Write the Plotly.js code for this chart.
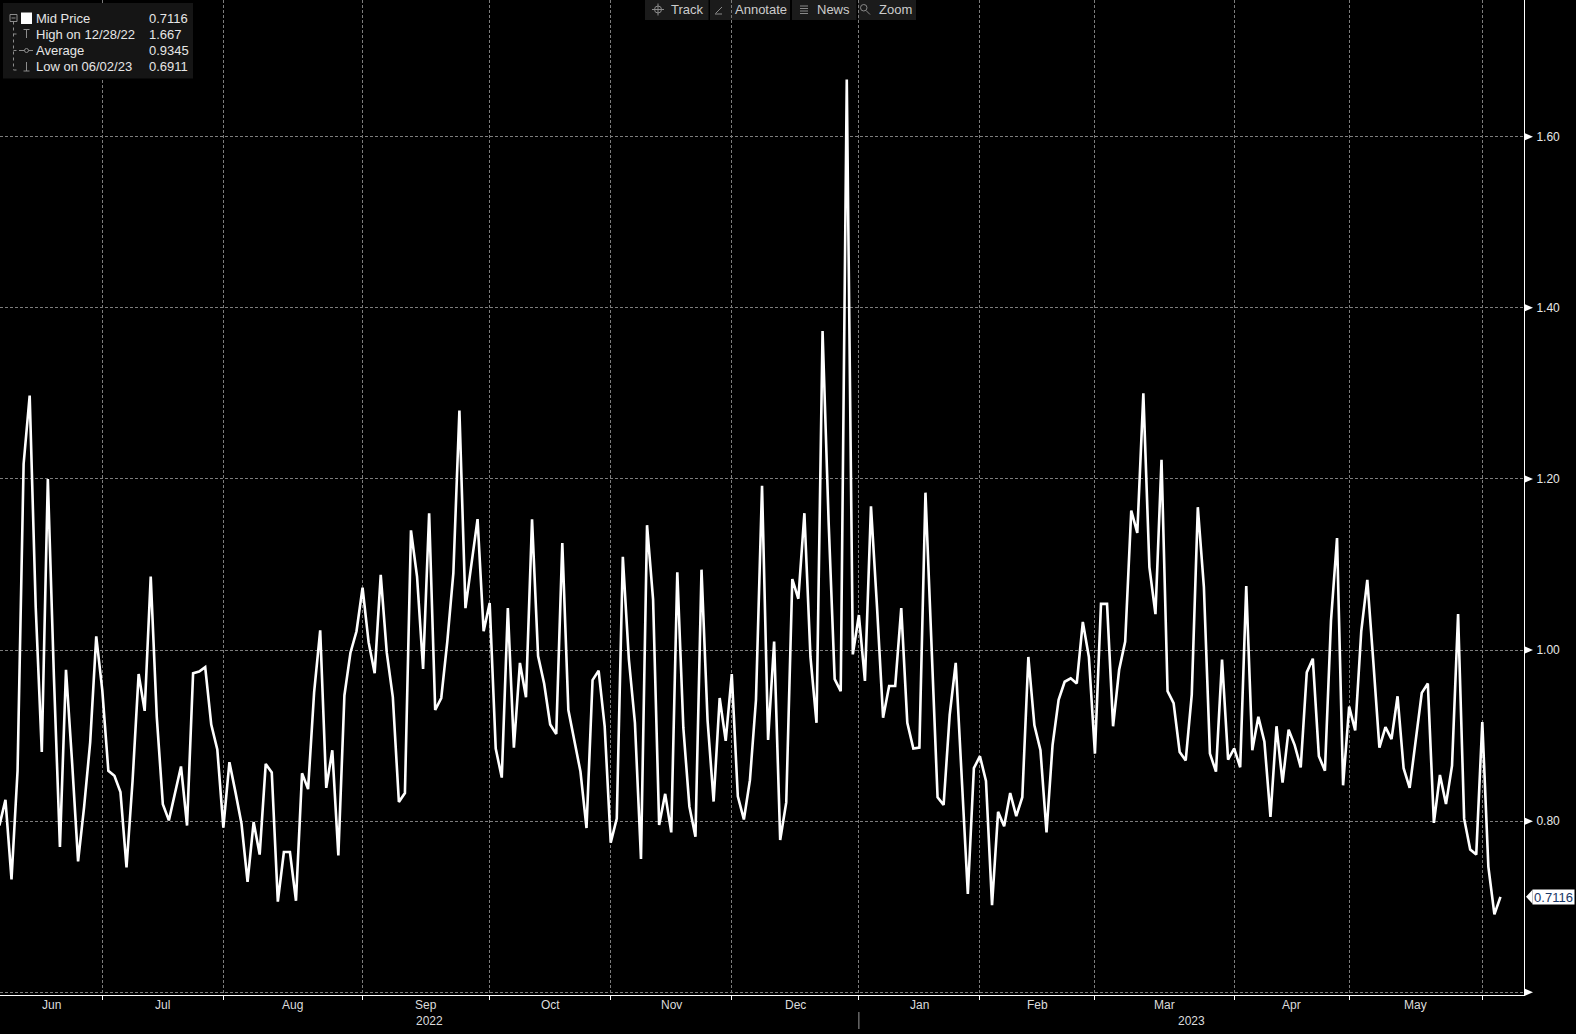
<!DOCTYPE html>
<html>
<head>
<meta charset="utf-8">
<script src="https://cdn.plot.ly/plotly-3.0.1.min.js"></script>
<style>
html,body{margin:0;padding:0;background:#000;}
#chart{width:1576px;height:1034px;}
</style>
</head>
<body>
<div id="chart"></div>
<script>
// ---------------- DATA ----------------
const startDate = '2022-06-06';
const endDate = '2023-06-05';
const holidays = ['2022-06-20','2022-07-04','2022-09-05','2022-10-10','2022-11-11','2022-11-24',
  '2022-12-26','2023-01-02','2023-01-16','2023-02-20','2023-04-07','2023-05-29'];

const midPrice = [
0.795, 0.825, 0.732, 0.859, 1.2175, 1.2975, 1.05, 0.881, 1.20, 0.97,
0.770, 0.977, 0.87, 0.753, 0.817, 0.8925, 1.016, 0.953, 0.859, 0.853,
0.834, 0.746, 0.847, 0.972, 0.929, 1.086, 0.922, 0.820, 0.801, 0.832,
0.864, 0.795, 0.973, 0.975, 0.980, 0.913, 0.884, 0.7925, 0.869, 0.834,
0.797, 0.729, 0.799, 0.761, 0.867, 0.857, 0.706, 0.764, 0.764, 0.707,
0.856, 0.8375, 0.951, 1.023, 0.839, 0.883, 0.760, 0.947, 0.997, 1.022,
1.073, 1.009, 0.973, 1.088, 0.997, 0.945, 0.8225, 0.833, 1.140, 1.086,
0.978, 1.160, 0.930, 0.944, 1.01, 1.09, 1.280, 1.049, 1.10, 1.153,
1.022, 1.055, 0.885, 0.851, 1.049, 0.886, 0.985, 0.945, 1.153, 0.993,
0.961, 0.913, 0.902, 1.125, 0.930, 0.893, 0.858, 0.792, 0.965, 0.976,
0.911, 0.775, 0.803, 1.109, 0.989, 0.915, 0.756, 1.146, 1.059, 0.7955,
0.832, 0.787, 1.091, 0.909, 0.817, 0.782, 1.094, 0.918, 0.823, 0.944,
0.894, 0.972, 0.829, 0.802, 0.848, 0.942, 1.192, 0.895, 1.01, 0.778,
0.822, 1.083, 1.060, 1.160, 0.992, 0.915, 1.373, 1.15, 0.966, 0.952,
1.667, 0.995, 1.041, 0.964, 1.168, 1.05, 0.921, 0.958, 0.958, 1.049,
0.915, 0.885, 0.886, 1.184, 1.01, 0.828, 0.819, 0.924, 0.985, 0.851,
0.715, 0.862, 0.876, 0.847, 0.702, 0.811, 0.794, 0.833, 0.806, 0.828,
0.992, 0.912, 0.883, 0.787, 0.889, 0.942, 0.963, 0.967, 0.961, 1.033,
0.992, 0.879, 1.054, 1.054, 0.911, 0.977, 1.01, 1.163, 1.137, 1.30,
1.097, 1.042, 1.2225, 0.952, 0.938, 0.881, 0.871, 0.948, 1.167, 1.074,
0.879, 0.858, 0.989, 0.872, 0.885, 0.863, 1.075, 0.883, 0.922, 0.893,
0.805, 0.911, 0.845, 0.907, 0.889, 0.863, 0.974, 0.990, 0.876, 0.859,
1.034, 1.131, 0.842, 0.934, 0.906, 1.022, 1.082, 0.986, 0.886, 0.910,
0.896, 0.946, 0.862, 0.839, 0.895, 0.950, 0.961, 0.798, 0.854, 0.820,
0.865, 1.042, 0.803, 0.767, 0.761, 0.916, 0.747, 0.6911, 0.7116
];

const monthLabels = ['Jun','Jul','Aug','Sep','Oct','Nov','Dec','Jan','Feb','Mar','Apr','May'];
const yearLabels = ['2022','2023'];
const yTickVals = [0.6, 0.8, 1.0, 1.2, 1.4, 1.6];
const yTickText = ['', '0.80', '1.00', '1.20', '1.40', '1.60'];
const legendLabels = ['Mid Price', 'High on 12/28/22', 'Average', 'Low on 06/02/23'];
const legendValues = ['0.7116', '1.667', '0.9345', '0.6911'];
const toolbarLabels = ['Track', 'Annotate', 'News', 'Zoom'];

// ---------------- CATEGORIES (trading days) ----------------
function tradingDays(s, e, hol) {
  const out = [];
  const d = new Date(s + 'T00:00:00Z');
  const end = new Date(e + 'T00:00:00Z');
  while (d <= end) {
    const wd = d.getUTCDay();
    const iso = d.toISOString().slice(0, 10);
    if (wd !== 0 && wd !== 6 && hol.indexOf(iso) < 0) out.push(iso);
    d.setUTCDate(d.getUTCDate() + 1);
  }
  return out;
}
const dates = tradingDays(startDate, endDate, holidays);

// month boundaries = last trading day of each month
const monthEnds = [];
for (let i = 0; i < dates.length - 1; i++) {
  if (dates[i].slice(0, 7) !== dates[i + 1].slice(0, 7)) monthEnds.push(i);
}

// ---------------- GEOMETRY ----------------
const W = 1524, H = 995;             // plot area in px
const XR = [0.098, 251.89];
const YR = [0.5969, 1.7598];
const px = x => x / W;
const py = y => 1 - y / H;
const vy = v => (v - YR[0]) / (YR[1] - YR[0]);
const vpx = v => H * (1 - vy(v));

const FONT = 'Liberation Sans, Arial, sans-serif';
const GRID = '#7c7c7c';

const shapes = [];
const annotations = [];

// month labels
const bounds = [XR[0]].concat(monthEnds);
monthLabels.forEach((m, i) => {
  annotations.push({xref: 'x', yref: 'paper', x: (bounds[i] + bounds[i + 1]) / 2, y: py(1005),
    text: m, showarrow: false, xanchor: 'center', yanchor: 'middle',
    font: {family: FONT, size: 12, color: '#dcdcdc'}});
});
// year labels
const yearBoundary = monthEnds[6];
const yearCenters = [(XR[0] + yearBoundary) / 2, (yearBoundary + XR[1]) / 2];
yearLabels.forEach((t, i) => {
  annotations.push({xref: 'x', yref: 'paper', x: yearCenters[i], y: py(1021),
    text: t, showarrow: false, xanchor: 'center', yanchor: 'middle',
    font: {family: FONT, size: 12, color: '#dcdcdc'}});
});
shapes.push({type: 'line', xref: 'x', yref: 'paper', x0: yearBoundary, x1: yearBoundary,
  y0: py(1012), y1: py(1029), line: {color: '#9a9a9a', width: 1}});

// y tick arrows
yTickVals.forEach(v => {
  const yy = vpx(v);
  shapes.push({type: 'path', xref: 'paper', yref: 'paper',
    path: `M ${px(1525)} ${py(yy - 3.5)} L ${px(1533)} ${py(yy)} L ${px(1525)} ${py(yy + 3.5)} Z`,
    fillcolor: '#ffffff', line: {width: 0}, layer: 'above'});
});

// last price tag
const lastValue = midPrice[midPrice.length - 1];
const ly = vpx(lastValue);
shapes.push({type: 'path', xref: 'paper', yref: 'paper',
  path: `M ${px(1526)} ${py(ly)} L ${px(1532.5)} ${py(ly - 7)} L ${px(1532.5)} ${py(ly + 7)} Z`,
  fillcolor: '#ffffff', line: {width: 0}, layer: 'above'});
annotations.push({xref: 'paper', yref: 'paper', x: px(1532), y: vy(lastValue),
  xanchor: 'left', yanchor: 'middle', text: lastValue.toFixed(4), showarrow: false,
  bgcolor: '#ffffff', borderpad: 0, width: 41, height: 14,
  font: {family: FONT, size: 13, color: '#1b3766'}});

// legend box (top-left)
shapes.push({type: 'rect', xref: 'paper', yref: 'paper', x0: px(3), x1: px(193), y0: py(3), y1: py(78.5),
  fillcolor: '#151515', line: {width: 0}, layer: 'above'});
const TREE = '#8c8c8c';
shapes.push({type: 'line', xref: 'paper', yref: 'paper', x0: px(13.5), x1: px(13.5), y0: py(21.5), y1: py(70),
  line: {color: TREE, width: 1, dash: 'dot'}, layer: 'above'});
[34, 50.5, 70].forEach(y => shapes.push({type: 'line', xref: 'paper', yref: 'paper',
  x0: px(13.5), x1: px(18), y0: py(y), y1: py(y), line: {color: TREE, width: 1, dash: 'dot'}, layer: 'above'}));
shapes.push({type: 'rect', xref: 'paper', yref: 'paper', x0: px(10), x1: px(17), y0: py(14.5), y1: py(21.5),
  line: {color: TREE, width: 1}, layer: 'above'});
shapes.push({type: 'line', xref: 'paper', yref: 'paper', x0: px(11.5), x1: px(15.5), y0: py(18), y1: py(18),
  line: {color: TREE, width: 1}, layer: 'above'});
shapes.push({type: 'rect', xref: 'paper', yref: 'paper', x0: px(21), x1: px(32), y0: py(12.5), y1: py(24),
  fillcolor: '#ffffff', line: {width: 0}, layer: 'above'});
// high icon
shapes.push({type: 'line', xref: 'paper', yref: 'paper', x0: px(26.5), x1: px(26.5), y0: py(29.5), y1: py(38),
  line: {color: TREE, width: 1}, layer: 'above'});
shapes.push({type: 'line', xref: 'paper', yref: 'paper', x0: px(23.5), x1: px(29.5), y0: py(29.5), y1: py(29.5),
  line: {color: TREE, width: 1}, layer: 'above'});
// average icon
shapes.push({type: 'line', xref: 'paper', yref: 'paper', x0: px(19), x1: px(33), y0: py(50.5), y1: py(50.5),
  line: {color: TREE, width: 1}, layer: 'above'});
shapes.push({type: 'circle', xref: 'paper', yref: 'paper', x0: px(24.5), x1: px(28.5), y0: py(48.5), y1: py(52.5),
  fillcolor: '#151515', line: {color: TREE, width: 1}, layer: 'above'});
// low icon
shapes.push({type: 'line', xref: 'paper', yref: 'paper', x0: px(26.5), x1: px(26.5), y0: py(62), y1: py(71),
  line: {color: TREE, width: 1}, layer: 'above'});
shapes.push({type: 'line', xref: 'paper', yref: 'paper', x0: px(23.5), x1: px(29.5), y0: py(71), y1: py(71),
  line: {color: TREE, width: 1}, layer: 'above'});
const rowY = [18.5, 34.5, 50.5, 66.5];
legendLabels.forEach((t, i) => {
  annotations.push({xref: 'paper', yref: 'paper', x: px(33.5), y: py(rowY[i]), xanchor: 'left', yanchor: 'middle',
    text: t, showarrow: false, font: {family: FONT, size: 13, color: '#e6e6e6'}});
  annotations.push({xref: 'paper', yref: 'paper', x: px(146.5), y: py(rowY[i]), xanchor: 'left', yanchor: 'middle',
    text: legendValues[i], showarrow: false, font: {family: FONT, size: 13, color: '#e6e6e6'}});
});

// toolbar (top center)
const btnX = [[645, 708.5], [710, 790], [792, 856.5], [858, 916]];
const btnTextX = [668.5, 732.5, 814.5, 876.5];
btnX.forEach((b, i) => {
  shapes.push({type: 'rect', xref: 'paper', yref: 'paper', x0: px(b[0]), x1: px(b[1]), y0: py(0), y1: py(20),
    fillcolor: '#1b1b1b', line: {width: 0}, layer: 'below'});
  annotations.push({xref: 'paper', yref: 'paper', x: px(btnTextX[i]), y: py(9.5), xanchor: 'left', yanchor: 'middle',
    text: toolbarLabels[i], showarrow: false, font: {family: FONT, size: 13, color: '#cccccc'}});
});
const ICON = '#8a8a8a';
// track crosshair
shapes.push({type: 'circle', xref: 'paper', yref: 'paper', x0: px(654.5), x1: px(661.5), y0: py(6), y1: py(13),
  line: {color: ICON, width: 1}, layer: 'below'});
shapes.push({type: 'line', xref: 'paper', yref: 'paper', x0: px(652), x1: px(664), y0: py(9.5), y1: py(9.5),
  line: {color: ICON, width: 1}, layer: 'below'});
shapes.push({type: 'line', xref: 'paper', yref: 'paper', x0: px(658), x1: px(658), y0: py(3.5), y1: py(15.5),
  line: {color: ICON, width: 1}, layer: 'below'});
// annotate pen
shapes.push({type: 'line', xref: 'paper', yref: 'paper', x0: px(715.5), x1: px(722), y0: py(13.5), y1: py(7),
  line: {color: ICON, width: 1}, layer: 'below'});
shapes.push({type: 'line', xref: 'paper', yref: 'paper', x0: px(715), x1: px(722), y0: py(14), y1: py(14),
  line: {color: ICON, width: 1}, layer: 'below'});
// news lines
[6, 8.5, 11, 13.5].forEach(y => shapes.push({type: 'line', xref: 'paper', yref: 'paper',
  x0: px(800), x1: px(808), y0: py(y), y1: py(y), line: {color: ICON, width: 1}, layer: 'below'}));
// zoom magnifier
shapes.push({type: 'circle', xref: 'paper', yref: 'paper', x0: px(860.5), x1: px(867), y0: py(4.5), y1: py(11),
  line: {color: ICON, width: 1}, layer: 'below'});
shapes.push({type: 'line', xref: 'paper', yref: 'paper', x0: px(866), x1: px(870), y0: py(10.5), y1: py(14.5),
  line: {color: ICON, width: 1}, layer: 'below'});

// ---------------- PLOT ----------------
const trace = {
  x: dates, y: midPrice, type: 'scatter', mode: 'lines',
  line: {color: '#ffffff', width: 2.6}, hoverinfo: 'skip', showlegend: false
};

const layout = {
  width: 1576, height: 1034,
  margin: {l: 0, r: 52, t: 0, b: 39, pad: 0},
  paper_bgcolor: '#000000', plot_bgcolor: '#000000',
  font: {family: FONT, color: '#dcdcdc', size: 12},
  showlegend: false,
  xaxis: {
    type: 'category', range: XR,
    tickmode: 'array', tickvals: monthEnds.map(i => dates[i]), showticklabels: false,
    ticks: 'outside', ticklen: 4, tickwidth: 1, tickcolor: '#ffffff',
    showgrid: true, gridcolor: GRID, gridwidth: 1, griddash: '3px,2px',
    showline: true, linecolor: '#ffffff', linewidth: 1, zeroline: false, fixedrange: true
  },
  yaxis: {
    side: 'right', range: YR,
    tickmode: 'array', tickvals: yTickVals, ticktext: yTickText,
    tickfont: {family: FONT, size: 12, color: '#e8e8e8'},
    ticks: 'outside', ticklen: 9, tickcolor: 'rgba(0,0,0,0)',
    showgrid: true, gridcolor: GRID, gridwidth: 1, griddash: '3px,2px',
    showline: true, linecolor: '#ffffff', linewidth: 1, zeroline: false, fixedrange: true
  },
  shapes: shapes,
  annotations: annotations
};

Plotly.newPlot('chart', [trace], layout, {displayModeBar: false, staticPlot: true});
</script>
</body>
</html>
